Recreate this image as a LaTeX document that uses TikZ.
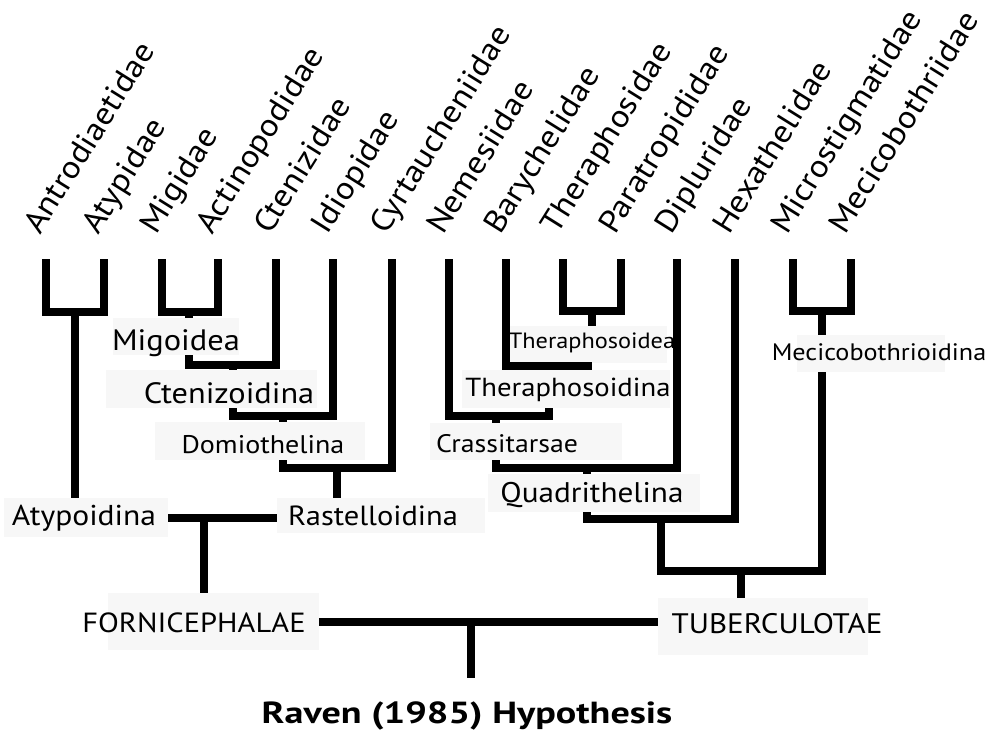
\documentclass[tikz,border=0pt]{standalone}
\usepackage{fontspec}
\setmainfont{PT Sans}[FakeStretch=1.1]
\newfontfamily\titlefont{PT Sans}[FakeStretch=1.25]
\usepackage{tikz}
\usetikzlibrary{calc}

\tikzset{
  branch/.style={line width=8pt, line join=miter},
  leaf/.style={rotate=58, anchor=base west, inner sep=0pt, font=\fontsize{31.5}{31.5}\selectfont},
  lblbox/.style={fill=black!3, inner sep=0pt},
  lbl/.style={anchor=base, inner sep=0pt, font=\fontsize{#1}{#1}\selectfont},
  lbl/.default=28
}

\begin{document}
\begin{tikzpicture}[x=1pt,y=-1pt]
\useasboundingbox (0,0) rectangle (993,731);

% families along the top
\foreach \x/\n/\t in {46/antr/Antrodiaetidae, 104/atyp/Atypidae, 162/migi/Migidae,
  218/acti/Actinopodidae, 276/cten/Ctenizidae, 333/idio/Idiopidae,
  392/cyrt/Cyrtaucheniidae, 449/neme/Nemesiidae, 506/bary/Barychelidae,
  563/thes/Theraphosidae, 621/para/Paratropididae, 677/dipl/Dipluridae,
  735/hexa/Hexathelidae, 793/micr/Microstigmatidae, 851/meci/Mecicobothriidae}
{
  \coordinate (\n) at (\x,259);
  \node[leaf] (\n-t) at (\x-6,236) {\t};
}

% label boxes
\node[lblbox, minimum width=126pt, minimum height=37pt] (migoidea) at (176,336.5) {};
\node[lblbox, minimum width=211pt, minimum height=38pt] (ctenizoidina) at (211.5,389) {};
\node[lblbox, minimum width=210pt, minimum height=38pt] (domiothelina) at (260,441) {};
\node[lblbox, minimum width=208pt, minimum height=35pt] (rastelloidina) at (381,515.5) {};
\node[lblbox, minimum width=164pt, minimum height=39pt] (atypoidina) at (86,517.5) {};
\node[lblbox, minimum width=211pt, minimum height=57pt] (fornicephalae) at (213.5,621.5) {};
\node[lblbox, minimum width=210pt, minimum height=57pt] (tuberculotae) at (763,626.5) {};
\node[lblbox, minimum width=159pt, minimum height=37pt] (theraphosoidea) at (587.5,344.5) {};
\node[lblbox, minimum width=208pt, minimum height=38pt] (theraphosoidina) at (566,389) {};
\node[lblbox, minimum width=192pt, minimum height=37pt] (crassitarsae) at (526,441.5) {};
\node[lblbox, minimum width=212pt, minimum height=38pt] (quadrithelina) at (594,493) {};
\node[lblbox, minimum width=148pt, minimum height=37pt] (mecicobothrioidina) at (871,353.5) {};

% label texts
\node[lbl=29.5] (migoidea-t) at (176,350) {Migoidea};
\node[lbl=29.4] (ctenizoidina-t) at (229,403) {Ctenizoidina};
\node[lbl=25.5] (domiothelina-t) at (263,453) {Domiothelina};
\node[lbl=27.7] (rastelloidina-t) at (373,525) {Rastelloidina};
\node[lbl=28.7] (atypoidina-t) at (84,525) {Atypoidina};
\node[lbl=27.7] (fornicephalae-t) at (194,632) {FORNICEPHALAE};
\node[lbl=28.2] (tuberculotae-t) at (777,633) {TUBERCULOTAE};
\node[lbl=22.1] (theraphosoidea-t) at (592,348) {Theraphosoidea};
\node[lbl=26.1] (theraphosoidina-t) at (568,396) {Theraphosoidina};
\node[lbl=25.3] (crassitarsae-t) at (507,452) {Crassitarsae};
\node[lbl=28.4] (quadrithelina-t) at (592,502) {Quadrithelina};
\node[lbl=23.8] (mecicobothrioidina-t) at (879,360) {Mecicobothrioidina};
\node[anchor=base, inner sep=0pt, font=\titlefont\fontsize{30.5}{30.5}\selectfont\bfseries] (title) at (467,723) {Raven (1985) Hypothesis};

% junctions
\coordinate (atypj) at (75,312);
\coordinate (migj) at (189,312);
\coordinate (ctenj) at (233,365);
\coordinate (idioj) at (283,416);
\coordinate (rastj) at (337,468);
\coordinate (fornj) at (204,518);
\coordinate (rootj) at (471,622);
\coordinate (rootend) at (471,678);
\coordinate (therj) at (592,311);
\coordinate (baryj) at (549,366);
\coordinate (nemj) at (496,416);
\coordinate (diplj) at (587,468);
\coordinate (hexj) at (661,519);
\coordinate (micj) at (822,311);
\coordinate (tubj) at (741,571);

% left half
\draw[branch] (antr) |- (atypj) -| (atyp);
\draw[branch] (atypj) -- (atypj |- atypoidina.north);
\draw[branch] (migi) |- (migj) -| (acti);
\draw[branch] (migj) -- (migj |- migoidea.north);
\draw[branch] (migj |- migoidea.south) |- (ctenj) -| (cten);
\draw[branch] (ctenj) -- (ctenj |- ctenizoidina.north);
\draw[branch] (ctenj |- ctenizoidina.south) |- (idioj) -| (idio);
\draw[branch] (idioj) -- (idioj |- domiothelina.north);
\draw[branch] (idioj |- domiothelina.south) |- (rastj) -| (cyrt);
\draw[branch] (rastj) -- (rastj |- rastelloidina.north);
\draw[branch] (atypoidina.east |- fornj) -- (rastelloidina.west |- fornj);
\draw[branch] (fornj) -- (fornj |- fornicephalae.north);

% right half
\draw[branch] (thes) |- (therj) -| (para);
\draw[branch] (therj) -- (therj |- theraphosoidea.north);
\draw[branch] (bary) |- (baryj) -- (therj |- baryj);
\draw[branch] (baryj) -- (baryj |- theraphosoidina.north);
\draw[branch] (neme) |- (nemj) -| (baryj |- theraphosoidina.south);
\draw[branch] (nemj) -- (nemj |- crassitarsae.north);
\draw[branch] (nemj |- crassitarsae.south) |- (diplj) -| (dipl);
\draw[branch] (diplj) -- (diplj |- quadrithelina.north);
\draw[branch] (diplj |- quadrithelina.south) |- (hexj) -| (hexa);
\draw[branch] (micr) |- (micj) -| (meci);
\draw[branch] (micj) -- (micj |- mecicobothrioidina.north);
\draw[branch] (hexj) |- (tubj) -| (micj |- mecicobothrioidina.south);
\draw[branch] (tubj) -- (tubj |- tuberculotae.north);

% root
\draw[branch] (fornicephalae.east |- rootj) -- (tuberculotae.west |- rootj);
\draw[branch] (rootj) -- (rootend);
\end{tikzpicture}
\end{document}
